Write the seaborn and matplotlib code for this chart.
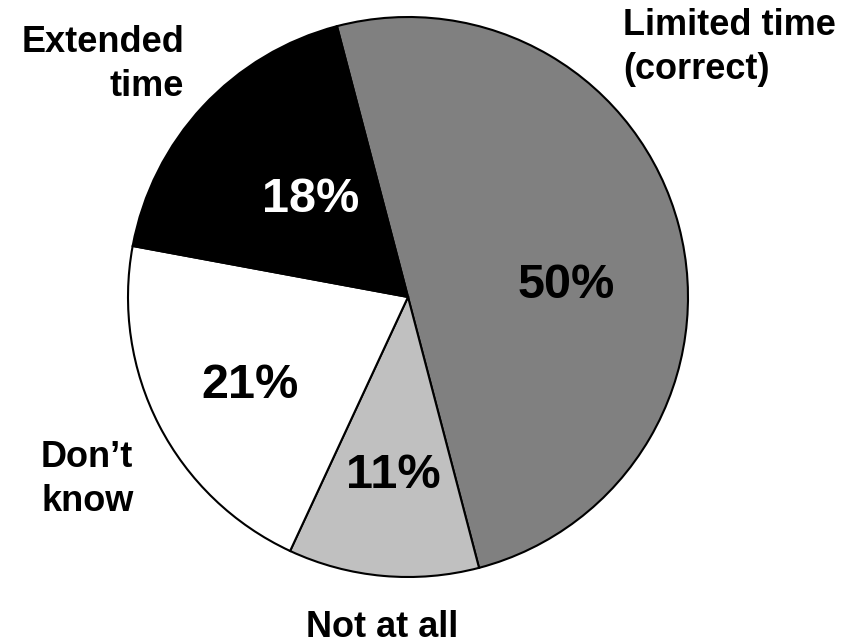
import matplotlib
matplotlib.use("Agg")
import matplotlib.pyplot as plt
import seaborn as sns

categories = ["Limited time\n(correct)", "Not at all", "Don\u2019t\nknow", "Extended\ntime"]
values = [50, 11, 21, 18]
pct_labels = ["50%", "11%", "21%", "18%"]
colors = ["#808080", "#c0c0c0", "#ffffff", "#000000"]
pct_colors = ["black", "black", "black", "white"]

sns.set_theme(style="white")
plt.rcParams['font.family'] = ['Liberation Sans', 'DejaVu Sans']

fig = plt.figure(figsize=(8.67, 6.44), dpi=100)
cx, cy, R = 408, 297, 280
W, H = 867, 644
ax = fig.add_axes([(cx - R) / W, (H - cy - R) / H, 2 * R / W, 2 * R / H])

ax.pie(values, colors=colors, startangle=104.7, counterclock=False,
       wedgeprops=dict(edgecolor="black", linewidth=1.5), radius=1)
ax.set_xlim(-1, 1)
ax.set_ylim(-1, 1)
ax.axis("off")

def d(px, py):
    return (px - cx) / R, (cy - py) / R

# percent labels: (center x, baseline y) in pixels
pct_pos = [(566, 298), (393, 488), (250, 398), (311, 212)]
for (px, py), t, c in zip(pct_pos, pct_labels, pct_colors):
    x, y = d(px, py)
    ax.text(x, y, t, ha="center", va="baseline", fontsize=35, fontweight="bold", color=c)

# category labels: (anchor x, first baseline y) in pixels, alignment
cat_specs = [
    ((623, 35), "left"),
    ((382, 637), "center"),
    ((41, 467), "left"),
    ((184, 52), "right"),
]
line_gap = 44
for ((px, py), ha), t in zip(cat_specs, categories):
    for i, line in enumerate(t.split("\n")):
        x, y = d(px, py + i * line_gap)
        ax.text(x, y, line, ha=ha, va="baseline", fontsize=26,
                fontweight="bold", color="black", clip_on=False)

fig.savefig("out.png", dpi=100)
